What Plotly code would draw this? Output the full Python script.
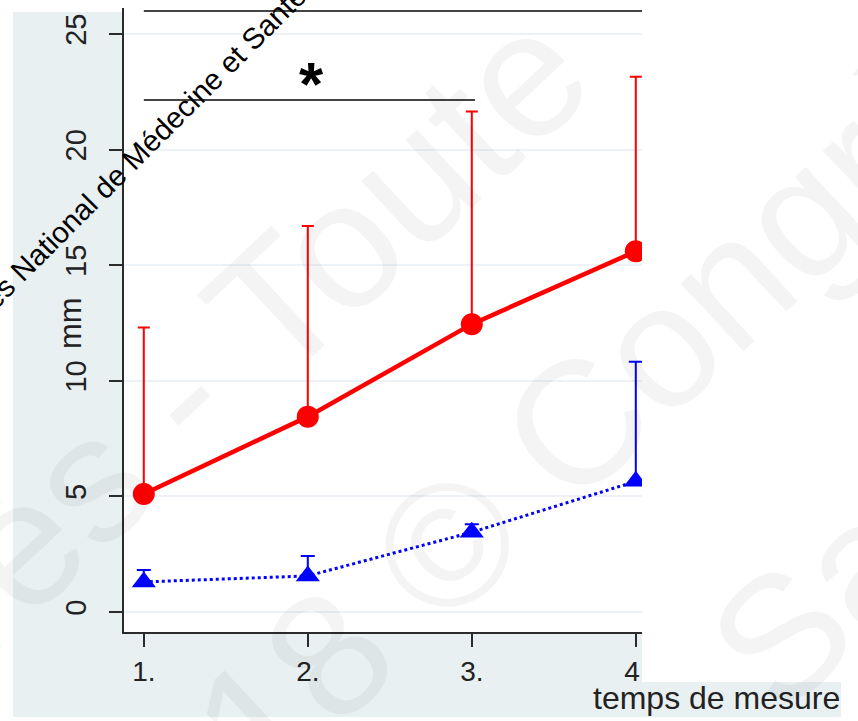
import plotly.graph_objects as go

# ---- data ----
times = [1, 2, 3, 4]
tick_text = ["1.", "2.", "3.", "4."]
red_mean = [5.1, 8.45, 12.45, 15.6]
red_upper = [12.3, 16.7, 21.65, 23.15]
blue_mean = [1.3, 1.56, 3.45, 5.65]
blue_upper = [1.82, 2.42, 3.8, 10.82]
y_ticks = [0, 5, 10, 15, 20, 25]
sig_start = [1.0, 1.0]
sig_end = [4.3, 3.02]
sig_level = [26.0, 22.15]

red_err = [u - m for u, m in zip(red_upper, red_mean)]
blue_err = [u - m for u, m in zip(blue_upper, blue_mean)]

# ---- layout geometry (pixels) ----
W, H = 858, 721
L, R, T, B = 124, 642, 8, 632
PX_PER_Y = 23.12
Y0_PX = 612
PX_PER_X = 164
X1_PX = 143.8


def px_x(px):
    return (px - L) / (R - L)


def px_y(py):
    return (B - py) / (B - T)


y_range = [(Y0_PX - B) / PX_PER_Y, (Y0_PX - T) / PX_PER_Y]
x_range = [1 + (L - X1_PX) / PX_PER_X, 1 + (R - X1_PX) / PX_PER_X]

FONT = "Liberation Sans, Arial, sans-serif"
GRAY_BG = "#e9f0f2"
AX = "#2b2b2b"
WM = "rgba(0,0,0,0.042)"

fig = go.Figure()

fig.add_trace(go.Scatter(
    x=times, y=blue_mean, mode="lines+markers",
    line=dict(color="#0000ff", width=3, dash="dot"),
    marker=dict(symbol="triangle-up", size=21, color="#0000ff"),
    error_y=dict(type="data", array=blue_err, arrayminus=[0] * 4, symmetric=False,
                 color="#0000ff", thickness=2, width=7),
    showlegend=False,
))
fig.add_trace(go.Scatter(
    x=times, y=red_mean, mode="lines+markers",
    line=dict(color="#ff0000", width=4.5),
    marker=dict(symbol="circle", size=22, color="#ff0000"),
    error_y=dict(type="data", array=red_err, arrayminus=[0] * 4, symmetric=False,
                 color="#ff0000", thickness=2, width=6),
    showlegend=False,
))

shapes = [
    # grey outer region: left strip and bottom strip (plot area stays white)
    dict(type="rect", xref="paper", yref="paper", layer="below",
         x0=px_x(13), x1=px_x(L), y0=px_y(717), y1=px_y(12),
         fillcolor=GRAY_BG, line=dict(width=0)),
    dict(type="rect", xref="paper", yref="paper", layer="below",
         x0=px_x(L - 1), x1=px_x(R), y0=px_y(717), y1=px_y(B),
         fillcolor=GRAY_BG, line=dict(width=0)),
    # box behind x title
    dict(type="rect", xref="paper", yref="paper", layer="below",
         x0=px_x(590), x1=px_x(841), y0=px_y(717), y1=px_y(682),
         fillcolor=GRAY_BG, line=dict(width=0)),
    # white cover on the right
    dict(type="rect", xref="paper", yref="paper", layer="above",
         x0=px_x(R), x1=px_x(W + 5), y0=px_y(682), y1=px_y(-5),
         fillcolor="white", line=dict(width=0)),
]
for xs, xe, yl in zip(sig_start, sig_end, sig_level):
    shapes.append(dict(type="line", xref="x", yref="y", x0=xs, x1=xe, y0=yl, y1=yl,
                       line=dict(color="#444444", width=2)))

annotations = [
    dict(text="mm", xref="paper", yref="paper", x=px_x(70), y=px_y(323),
         showarrow=False, textangle=-90, font=dict(family=FONT, size=31, color="#222"),
         xanchor="center", yanchor="middle"),
    dict(text="temps de mesure", xref="paper", yref="paper", x=px_x(716), y=px_y(698),
         showarrow=False, font=dict(family=FONT, size=32, color="#222"),
         xanchor="center", yanchor="middle"),
    dict(text="<b>*</b>", xref="paper", yref="paper", x=px_x(311), y=px_y(83),
         showarrow=False, font=dict(family=FONT, size=62, color="black"),
         xanchor="center", yanchor="middle"),
    # watermark
    dict(text="Congrès - Toute", xref="paper", yref="paper", x=px_x(90), y=px_y(478),
         showarrow=False, textangle=-43, font=dict(family=FONT, size=180, color=WM),
         xanchor="center", yanchor="middle"),
    dict(text="2018 © Congrès", xref="paper", yref="paper", x=px_x(546), y=px_y(452),
         showarrow=False, textangle=-43, font=dict(family=FONT, size=175, color=WM),
         xanchor="center", yanchor="middle"),
    dict(text="Santé", xref="paper", yref="paper", x=px_x(905), y=px_y(520),
         showarrow=False, textangle=-43, font=dict(family=FONT, size=175, color=WM),
         xanchor="center", yanchor="middle"),
    dict(text="Congrès National de Médecine et Santé au Travail", xref="paper", yref="paper",
         x=px_x(164), y=px_y(128), showarrow=False, textangle=-45,
         font=dict(family=FONT, size=29.5, color="black"),
         xanchor="center", yanchor="middle"),
]

fig.update_layout(
    width=W, height=H,
    margin=dict(l=L, r=W - R, t=T, b=H - B, pad=0),
    paper_bgcolor="white", plot_bgcolor="white",
    shapes=shapes, annotations=annotations,
    font=dict(family=FONT, color="#222"),
)
fig.update_xaxes(
    range=x_range, tickvals=times, ticktext=tick_text,
    showgrid=False, zeroline=False,
    showline=True, linecolor=AX, linewidth=2,
    ticks="outside", ticklen=13, tickwidth=2, tickcolor=AX,
    tickfont=dict(family=FONT, size=28, color="#222"), ticklabelstandoff=0,
)
fig.update_yaxes(
    range=y_range, tickvals=y_ticks,
    showgrid=True, gridcolor="#ecf2f5", gridwidth=1.5, zeroline=False,
    showline=True, linecolor=AX, linewidth=2,
    ticks="outside", ticklen=13, tickwidth=2, tickcolor=AX,
    tickangle=-90, tickfont=dict(family=FONT, size=29, color="#222"), ticklabelstandoff=11,
)

fig.write_html("out.html", config={"displayModeBar": False},
               post_script="document.body.style.margin='0';")
